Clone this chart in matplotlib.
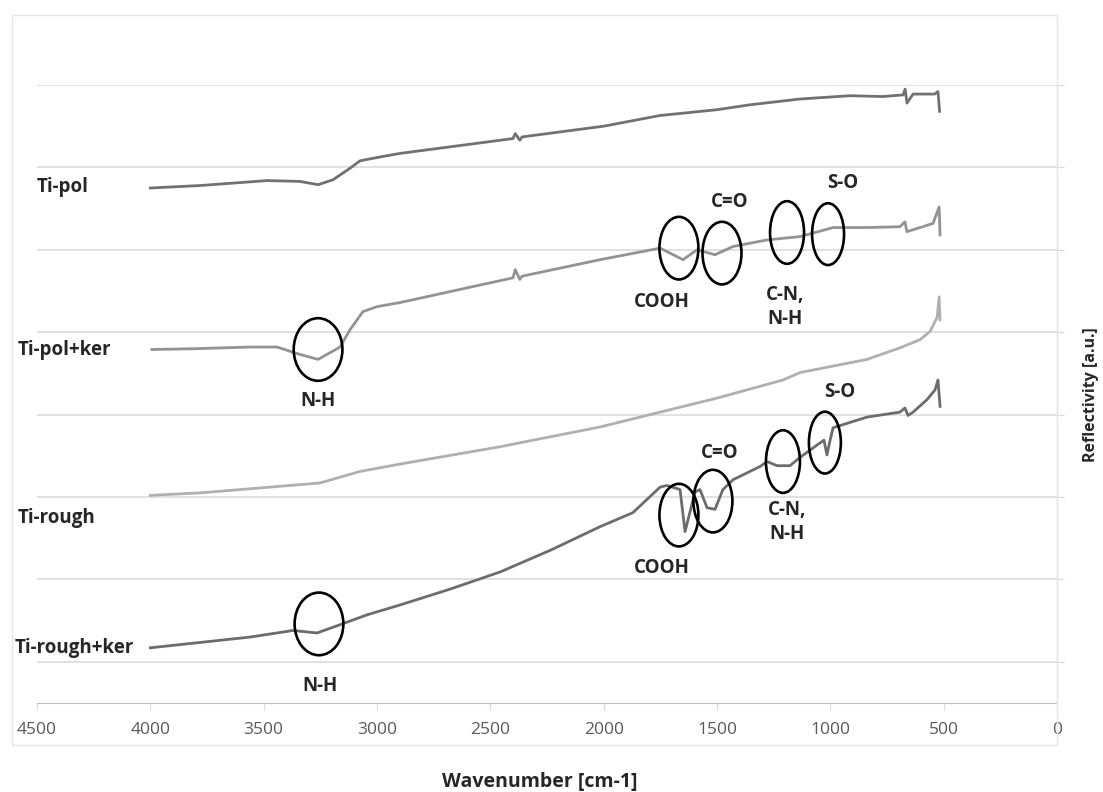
import matplotlib
matplotlib.use("Agg")
import matplotlib.pyplot as plt
from matplotlib.patches import Ellipse, Rectangle

# ---------------- data (wavenumber cm-1, reflectivity a.u.) ----------------
ti_pol_x = [4000, 3780, 3485, 3340, 3260, 3194, 3119, 3075, 2980, 2898, 2400, 2390,
            2370, 2360, 2000, 1751, 1500, 1354, 1134, 913, 768, 679, 670, 662, 635,
            540, 525, 518]
ti_pol_y = [6.75, 6.78, 6.84, 6.83, 6.79, 6.85, 6.99, 7.08, 7.13, 7.17, 7.35, 7.41,
            7.33, 7.37, 7.50, 7.63, 7.70, 7.76, 7.83, 7.87, 7.86, 7.88, 7.95, 7.78, 7.89,
            7.89, 7.92, 7.68]

ti_polker_x = [3993, 3800, 3560, 3441, 3340, 3260, 3163, 3119, 3062, 3000, 2898, 2400,
               2390, 2370, 2360, 2016, 1751, 1650, 1588, 1509, 1429, 1279, 1134, 988,
               838, 693, 671, 662, 547, 520, 516]
ti_polker_y = [4.79, 4.80, 4.82, 4.82, 4.73, 4.67, 4.82, 5.03, 5.25, 5.31, 5.36, 5.66,
               5.76, 5.64, 5.68, 5.88, 6.02, 5.88, 6.00, 5.94, 6.04, 6.12, 6.16, 6.27,
               6.27, 6.28, 6.34, 6.22, 6.32, 6.52, 6.18]

ti_rough_x = [4000, 3781, 3560, 3252, 3075, 2898, 2457, 2016, 1500, 1209, 1134,
              838, 693, 604, 560, 529, 520, 516]
ti_rough_y = [3.02, 3.05, 3.10, 3.17, 3.31, 3.40, 3.61, 3.85, 4.20, 4.42, 4.51,
              4.67, 4.81, 4.91, 5.01, 5.18, 5.43, 5.15]

ti_roughker_x = [4000, 3560, 3371, 3265, 3163, 3044, 2898, 2680, 2457, 2230, 2016, 1871,
                 1751, 1721, 1663, 1641, 1597, 1575, 1544, 1509, 1474, 1429, 1310, 1279,
                 1235, 1178, 1134, 1059, 1028, 1015, 1001, 988, 838, 693, 671, 657, 635,
                 574, 538, 525, 516]
ti_roughker_y = [1.17, 1.30, 1.38, 1.35, 1.45, 1.57, 1.69, 1.88, 2.09, 2.36, 2.64, 2.81,
                 3.12, 3.14, 3.09, 2.58, 3.06, 3.09, 2.87, 2.85, 3.09, 3.21, 3.37, 3.43,
                 3.38, 3.38, 3.48, 3.63, 3.69, 3.51, 3.69, 3.84, 3.97, 4.03, 4.08, 3.99,
                 4.03, 4.18, 4.30, 4.42, 4.10]

series_names = ["Ti-pol", "Ti-pol+ker", "Ti-rough", "Ti-rough+ker"]

# band annotations: (label, centre wavenumber, centre y, label x, label y)
bands_upper = [("COOH", 1668, 6.02, 1743, 5.37),
               ("C=O", 1478, 5.96, 1443, 6.58),
               ("C-N,\nN-H", 1191, 6.21, 1200, 5.31),
               ("S-O", 1010, 6.19, 944, 6.81),
               ("N-H", 3260, 4.79, 3260, 4.16)]
bands_lower = [("COOH", 1668, 2.78, 1743, 2.14),
               ("C=O", 1518, 2.95, 1487, 3.54),
               ("C-N,\nN-H", 1209, 3.43, 1191, 2.70),
               ("S-O", 1024, 3.66, 957, 4.28),
               ("N-H", 3256, 1.46, 3252, 0.71)]
ell_w = [172, 172, 150, 141, 215]
ell_h = [0.76, 0.76, 0.76, 0.75, 0.76]

x_ticks = [4500, 4000, 3500, 3000, 2500, 2000, 1500, 1000, 500, 0]

# ---------------- figure ----------------
W, H = 1103, 792
fig = plt.figure(figsize=(W / 100, H / 100), dpi=100)
ax = fig.add_axes([37 / W, 1 - 703 / H, (1057 - 37) / W, (703 - 85) / H])

grid_c = "#d9d9d9"
for g in range(1, 9):
    ax.axhline(g, color=grid_c, lw=1.1, zorder=0)

ax.plot(ti_pol_x, ti_pol_y, color="#717171", lw=2.0, zorder=3)
ax.plot(ti_polker_x, ti_polker_y, color="#939393", lw=2.0, zorder=3)
ax.plot(ti_rough_x, ti_rough_y, color="#b0b0b0", lw=2.0, zorder=3)
ax.plot(ti_roughker_x, ti_roughker_y, color="#6c6c6c", lw=2.0, zorder=3)

font = "Open Sans"
txt_c = "#262626"
for bands in (bands_upper, bands_lower):
    for (lab, cx, cy, tx, ty), w, h in zip(bands, ell_w, ell_h):
        ax.add_patch(Ellipse((cx, cy), w, h, fill=False, ec="black", lw=1.9, zorder=4))
        ax.text(tx, ty, lab, ha="center", va="center", fontsize=13.5, fontweight="bold",
                family=font, color=txt_c, linespacing=1.25, zorder=5)

ax.set_xlim(4500, 0)
ax.set_ylim(0.5, 8.0)
ax.set_xticks(x_ticks)
ax.set_xticklabels([str(t) for t in x_ticks], family=font, fontsize=12.5, color="#595959")
ax.tick_params(axis="x", length=5, color=grid_c, pad=9)
ax.yaxis.tick_right()
ax.set_yticks(range(1, 9))
ax.set_yticklabels([])
ax.tick_params(axis="y", length=5, color=grid_c)
for s in ("top", "left"):
    ax.spines[s].set_visible(False)
ax.spines["right"].set_color(grid_c)
ax.spines["bottom"].set_color("#bfbfbf")

# series labels
label_pos = [(37, 187), (18, 350), (18, 518), (15, 648)]
for name, (px, py) in zip(series_names, label_pos):
    fig.text(px / W, 1 - py / H, name, ha="left", va="center", fontsize=13.5,
             fontweight="bold", family=font, color=txt_c)

fig.text(540 / W, 1 - 782 / H, "Wavenumber [cm-1]", ha="center", va="center",
         fontsize=14, fontweight="bold", family=font, color=txt_c)
fig.text(1091 / W, 1 - 395 / H, "Reflectivity [a.u.]", ha="center", va="center",
         rotation=90, fontsize=11.5, fontweight="bold", family=font, color=txt_c)

# chart-area border
fig.add_artist(Rectangle((12 / W, 1 - 745 / H), (1057 - 12) / W, (745 - 15) / H,
                         transform=fig.transFigure, fill=False, ec="#e6e6e6", lw=1))

fig.savefig("out.png", dpi=100, facecolor="white")
